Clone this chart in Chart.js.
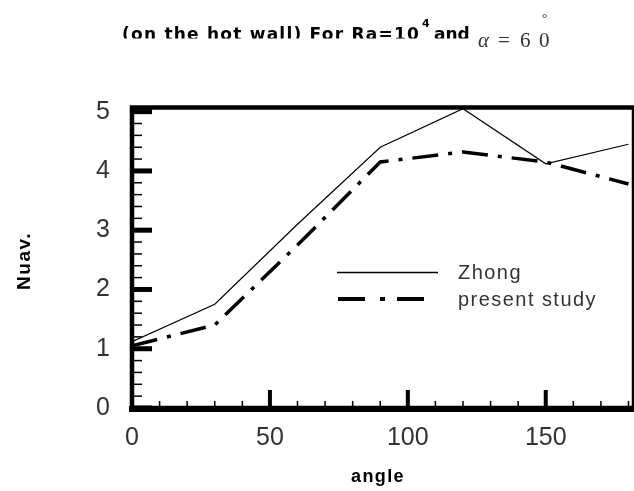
<!DOCTYPE html>
<html>
<head>
<meta charset="utf-8">
<script src="https://cdn.jsdelivr.net/npm/chart.js@4/dist/chart.umd.min.js"></script>
<style>
  html, body { margin: 0; background: #fff; }
  canvas { display: block; }
</style>
</head>
<body>
<canvas id="nu-chart" width="634" height="491"></canvas>
<script>
// values
const angles = [0, 30, 60, 90, 120, 150, 180];
const zhong = [1.12, 1.75, 3.1, 4.4, 5.05, 4.12, 4.45];
const present = [1.05, 1.4, 2.75, 4.15, 4.32, 4.15, 3.78];
const xTicks = [0, 50, 100, 150];
const yTicks = [0, 1, 2, 3, 4, 5];

const SANS = "'Liberation Sans', Arial, sans-serif";
const WIDE = "'DejaVu Sans', Verdana, sans-serif";
const SERIF = "'Liberation Serif', 'Times New Roman', serif";
const PRESENT_DASH = [26, 10, 4, 10];

// draw text with a little letter spacing so it fills a target width
function spacedText(ctx, str, x, y, width) {
  ctx.letterSpacing = '0px';
  const w = ctx.measureText(str).width;
  ctx.letterSpacing = Math.max(0, (width - w) / str.length) + 'px';
  ctx.fillText(str, x, y);
  ctx.letterSpacing = '0px';
}

// thick frame + inward tick marks
const framePlugin = {
  id: 'frame',
  afterDatasetsDraw(chart) {
    const { ctx, chartArea: a, scales: { x, y } } = chart;
    ctx.save();
    ctx.fillStyle = '#000';
    // minor y ticks every 0.2
    for (let i = 1; i < 25; i++) {
      if (i % 5 === 0) continue;
      const py = y.getPixelForValue(i / 5);
      ctx.fillRect(a.left, py - 0.75, 10, 1.5);
    }
    // major y ticks
    yTicks.forEach(v => {
      const py = y.getPixelForValue(v);
      ctx.fillRect(a.left, py - 2.5, 20, 5);
    });
    // minor x ticks every 10
    for (let v = 10; v < 182; v += 10) {
      if (v % 50 === 0) continue;
      const px = x.getPixelForValue(v);
      ctx.fillRect(px - 0.75, a.bottom - 7, 1.5, 7);
    }
    // major x ticks
    xTicks.forEach(v => {
      const px = x.getPixelForValue(v);
      ctx.fillRect(px - 2, a.bottom - 18, 4, 18);
    });
    // frame
    ctx.strokeStyle = '#000';
    ctx.lineWidth = 4.5;
    ctx.strokeRect(a.left, a.top, a.right - a.left, a.bottom - a.top);
    ctx.fillRect(a.left - 3, a.bottom - 2, a.right - a.left + 3, 6);
    ctx.restore();
  }
};

// title, axis titles and legend
const textPlugin = {
  id: 'texts',
  afterDraw(chart) {
    const ctx = chart.ctx;
    ctx.save();
    ctx.fillStyle = '#000';
    ctx.textAlign = 'left';
    ctx.textBaseline = 'alphabetic';

    // title (bottom of the bold line is cut off in the original)
    ctx.save();
    ctx.beginPath();
    ctx.rect(0, 0, 634, 38.5);
    ctx.clip();
    ctx.font = 'bold 17px ' + WIDE;
    spacedText(ctx, '(on the hot wall) For Ra=10', 122, 40, 298);
    ctx.font = 'bold 11px ' + WIDE;
    ctx.fillText('4', 422, 27);
    ctx.font = 'bold 17px ' + WIDE;
    ctx.fillText('and', 434, 40);
    ctx.restore();

    ctx.fillStyle = '#333';
    ctx.font = 'italic 21px ' + SERIF;
    ctx.fillText('\u03b1', 478, 47);
    ctx.font = '21px ' + SERIF;
    ctx.fillText('=', 498, 47);
    ctx.fillText('6', 520, 47);
    ctx.fillText('0', 539, 47);
    ctx.font = '13px ' + SERIF;
    ctx.fillText('\u00b0', 542, 22);

    // axis titles
    ctx.fillStyle = '#000';
    ctx.font = 'bold 18px ' + SANS;
    spacedText(ctx, 'angle', 351, 482, 54);

    ctx.save();
    ctx.translate(30, 261);
    ctx.rotate(-Math.PI / 2);
    ctx.font = 'bold 19px ' + SANS;
    spacedText(ctx, 'Nuav.', -29, 0, 58);
    ctx.restore();

    // legend
    ctx.strokeStyle = '#000';
    ctx.lineWidth = 1.5;
    ctx.beginPath();
    ctx.moveTo(337, 272.5);
    ctx.lineTo(438, 272.5);
    ctx.stroke();

    ctx.lineWidth = 4;
    ctx.setLineDash([27, 15, 5, 12]);
    ctx.beginPath();
    ctx.moveTo(338, 299);
    ctx.lineTo(426, 299);
    ctx.stroke();
    ctx.setLineDash([]);

    ctx.fillStyle = '#333';
    ctx.font = '20px ' + SANS;
    ctx.textBaseline = 'middle';
    const ds = chart.data.datasets;
    spacedText(ctx, ds[0].label, 458, 273, 64);
    spacedText(ctx, ds[1].label, 458, 300, 139);
    ctx.restore();
  }
};

const toPoints = vals => angles.map((a, i) => ({ x: a, y: vals[i] }));

new Chart(document.getElementById('nu-chart'), {
  type: 'line',
  data: {
    datasets: [
      {
        label: 'Zhong',
        data: toPoints(zhong),
        borderColor: '#000',
        borderWidth: 1.2,
        pointRadius: 0,
        tension: 0,
        fill: false,
      },
      {
        label: 'present study',
        data: toPoints(present),
        borderColor: '#000',
        borderWidth: 3.5,
        borderDash: PRESENT_DASH,
        pointRadius: 0,
        tension: 0,
        fill: false,
      },
    ],
  },
  options: {
    responsive: false,
    animation: false,
    devicePixelRatio: 1,
    layout: { padding: { top: 107.5, left: 0, right: 0, bottom: 0 } },
    plugins: {
      legend: { display: false },
      tooltip: { enabled: false },
    },
    scales: {
      x: {
        type: 'linear',
        min: 0,
        max: 182,
        grid: { display: false },
        border: { display: false },
        afterBuildTicks: s => { s.ticks = xTicks.map(v => ({ value: v })); },
        afterFit: s => { s.height = 83; },
        ticks: {
          padding: 7,
          color: '#333',
          autoSkip: false,
          maxRotation: 0,
          font: { family: SANS, size: 25 },
        },
      },
      y: {
        min: 0,
        max: 5.07,
        grid: { display: false },
        border: { display: false },
        afterBuildTicks: s => { s.ticks = yTicks.map(v => ({ value: v })); },
        afterFit: s => { s.width = 132; },
        ticks: {
          padding: 14,
          color: '#333',
          font: { family: SANS, size: 25 },
        },
      },
    },
  },
  plugins: [framePlugin, textPlugin],
});
</script>
</body>
</html>
